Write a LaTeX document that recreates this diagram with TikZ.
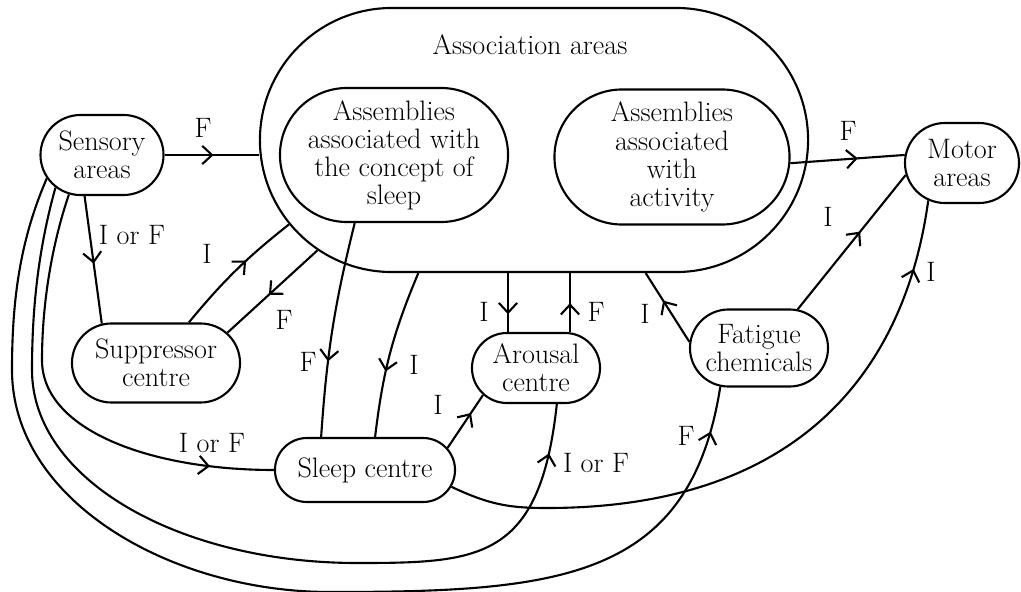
\documentclass[tikz,border=0pt]{standalone}
\usetikzlibrary{arrows.meta, shapes.misc, decorations.markings}

\begin{document}
\begin{tikzpicture}[
    x=0.025cm, y=-0.025cm,
    line width=1.5pt,
    font=\fontsize{20}{20}\selectfont,
    areabox/.style={rounded rectangle, draw, inner sep=0pt},
    every label/.style={align=center, inner sep=0pt},
    lbl/.style={inner sep=1pt},
    midarr/.style={postaction={decorate}, decoration={markings,
                 mark=at position #1 with {\arrow{Straight Barb[length=7pt, width=13pt]}}}},
    midarr/.default=0.5,
  ]
    \useasboundingbox (0,0) rectangle (1021,592);

    \node[areabox, minimum width=13.7cm, minimum height=6.6cm] (assoc) at (534,140) {};
    \node (assocTitle) at (530,45) {Association areas};
    \node[areabox, minimum width=5.7cm, minimum height=3.35cm,
      label={center:Assemblies\\associated with\\the concept of\\sleep}] (sleepAsm) at (394,155) {};
    \node[areabox, minimum width=5.875cm, minimum height=3.375cm,
      label={center:Assemblies\\associated\\with\\activity}] (actAsm) at (672,157) {};
    \node[areabox, minimum width=3.075cm, minimum height=2cm,
      label={center:Sensory\\areas}] (sens) at (102,155) {};
    \node[areabox, minimum width=4.2cm, minimum height=1.975cm,
      label={center:Suppressor\\centre}] (supp) at (156,363) {};
    \node[areabox, minimum width=2.85cm, minimum height=2cm,
      label={center:Motor\\areas}] (mot) at (962,163) {};
    \node[areabox, minimum width=3.2cm, minimum height=1.75cm,
      label={center:Arousal\\centre}] (arou) at (536,368) {};
    \node[areabox, minimum width=3.45cm, minimum height=1.925cm,
      label={center:Fatigue\\chemicals}] (fat) at (759,348) {};
    \node[areabox, minimum width=4.5cm, minimum height=1.6cm,
      label={center:Sleep centre}] (slp) at (365,470) {};

    \draw[midarr=0.52] (sens.east) -- (sens.east -| assoc.west);
    \draw[midarr=0.53] (sens.247) -- (supp.144);
    \draw[midarr=0.6] (supp.51) to[bend left=6] (assoc.199);
    \draw[midarr=0.54] (assoc.207) -- (supp.23);
    \draw[midarr=0.65] (sleepAsm.240) to[bend right=5] (slp.143);
    \draw[midarr=0.61] (assoc.229) to[bend right=8] (slp.73);
    \draw[midarr=0.7] ([xshift=-0.7cm]arou.north |- assoc.south) -- ([xshift=-0.7cm]arou.north);
    \draw[midarr=0.49] ([xshift=0.85cm]arou.north) -- ([xshift=0.85cm]arou.north |- assoc.south);
    \draw[midarr=0.6] (fat.175) -- (assoc.310);
    \draw[midarr=0.58] (fat.45) -- (mot.192);
    \draw[midarr=0.59] (actAsm.357) -- (mot.172);
    \draw[midarr=0.66] (slp.15) -- (arou.207);

    \draw[midarr=-1.25cm] (sens.215) .. controls (38,250) and (32,310) .. (32,370)
      .. controls (32,480) and (180,563) .. (357,563)
      .. controls (480,563) and (540,560) .. (arou.300);
    \draw[midarr=-1.15cm] (sens.203) .. controls (20,240) and (12,300) .. (12,370)
      .. controls (12,500) and (170,592) .. (330,592)
      .. controls (560,592) and (690,580) .. (fat.225);
    \draw[midarr=-1.6cm] (sens.230) .. controls (50,250) and (42,310) .. (42,360)
      .. controls (42,430) and (150,470) .. (slp.west);
    \draw[midarr=-1.75cm] (slp.349) .. controls (490,505) and (510,508) .. (547,508)
      .. controls (800,508) and (905,370) .. (mot.228);

    \node[lbl] (fSensAssoc) at (203,128) {F};
    \node[lbl] (iofSensSupp) at (132,235) {I or F};
    \node[lbl] (iSuppAssoc) at (207,254) {I};
    \node[lbl] (fAssocSupp) at (284,320) {F};
    \node[lbl] (fAsmSlp) at (308,362) {F};
    \node[lbl] (iAssocSlp) at (414,365) {I};
    \node[lbl] (iAssocArou) at (484,312) {I};
    \node[lbl] (fArouAssoc) at (596,312) {F};
    \node[lbl] (iFatAssoc) at (645,314) {I};
    \node[lbl] (iFatMot) at (828,217) {I};
    \node[lbl] (fActMot) at (848,131) {F};
    \node[lbl] (iSlpMot) at (931,272) {I};
    \node[lbl] (iSlpArou) at (438,405) {I};
    \node[lbl] (iofSensArou) at (596,463) {I or F};
    \node[lbl] (fSensFat) at (686,436) {F};
    \node[lbl] (iofSensSlp) at (212,443) {I or F};
  \end{tikzpicture}
\end{document}
